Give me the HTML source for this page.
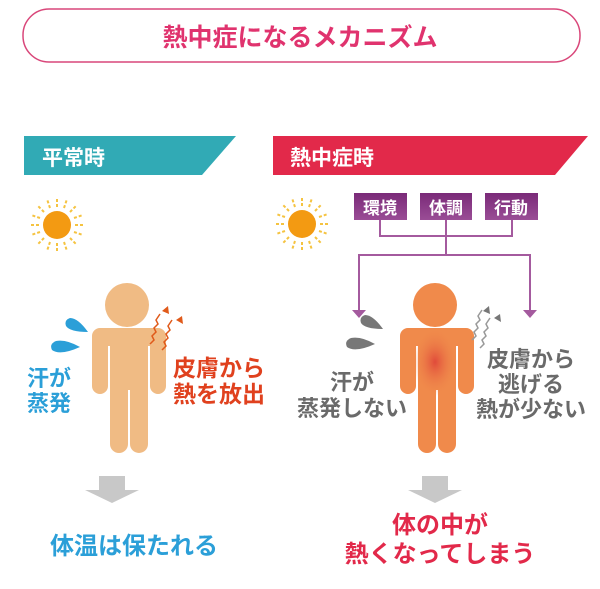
<!DOCTYPE html>
<html><head><meta charset="utf-8"><style>
body{margin:0;width:600px;height:584px;background:#fff;overflow:hidden}
svg text{font-family:"Liberation Sans","Noto Sans CJK JP",sans-serif;font-weight:bold}
</style></head><body>
<svg width="600" height="584" viewBox="0 0 600 584" xmlns="http://www.w3.org/2000/svg">
<defs>
<radialGradient id="hot" cx="0.5" cy="0.5" r="0.5"><stop offset="0" stop-color="#e04a3a"/><stop offset="1" stop-color="#f08a4b" stop-opacity="0"/></radialGradient>
<linearGradient id="pb" x1="0" y1="0" x2="0" y2="1"><stop offset="0" stop-color="#7a2a78"/><stop offset="1" stop-color="#9a4d96"/></linearGradient>
<g id="sun"><circle r="14" fill="#f39a12"/>
<g stroke="#f5c340" stroke-width="2" stroke-dasharray="3 2">
<line x1="0" y1="-18" x2="0" y2="-28"/><line x1="0" y1="18" x2="0" y2="28"/><line x1="-18" y1="0" x2="-28" y2="0"/><line x1="18" y1="0" x2="28" y2="0"/>
<line x1="13" y1="13" x2="20" y2="20"/><line x1="-13" y1="13" x2="-20" y2="20"/><line x1="13" y1="-13" x2="20" y2="-20"/><line x1="-13" y1="-13" x2="-20" y2="-20"/>
<line x1="7" y1="17" x2="10" y2="26"/><line x1="-7" y1="17" x2="-10" y2="26"/><line x1="7" y1="-17" x2="10" y2="-26"/><line x1="-7" y1="-17" x2="-10" y2="-26"/>
<line x1="17" y1="7" x2="26" y2="10"/><line x1="-17" y1="7" x2="-26" y2="10"/><line x1="17" y1="-7" x2="26" y2="-10"/><line x1="-17" y1="-7" x2="-26" y2="-10"/>
</g></g>
<g id="man">
<circle cx="0" cy="-23" r="22"/>
<path d="M-31,0 H31 a8,8 0 0 1 8,8 V58 a8,8 0 0 1 -16,0 V18 h-2 V116 a9,9 0 0 1 -18,0 V62 h-2 V116 a9,9 0 0 1 -18,0 V18 h-2 V58 a8,8 0 0 1 -16,0 V8 a8,8 0 0 1 8,-8Z"/>
</g>
<g id="drops">
<path d="M88,332 Q78,318 70,318 Q64,320 66,326 Q70,332 88,332Z"/>
<path d="M80,347 Q66,339 56,341 Q49,344 52,350 Q60,356 80,347Z"/>
</g>
</defs>
<rect x="23" y="9" width="557" height="53" rx="26" fill="#fff" stroke="#d9477a" stroke-width="1.5"/>
<text x="300" y="46" font-size="25" fill="#e0336e" text-anchor="middle">熱中症になるメカニズム</text>

<polygon points="24,136 236,136 202,175 24,175" fill="#31aab5"/>
<text x="42" y="165" font-size="21" fill="#fff">平常時</text>
<polygon points="273,136 588,136 555,175 273,175" fill="#e2294a"/>
<text x="290" y="165" font-size="21" fill="#fff">熱中症時</text>

<use href="#sun" x="57" y="225"/>
<use href="#sun" x="302" y="224"/>

<!-- left person -->
<use href="#man" x="127" y="328" fill="#f0bb84"/>
<use href="#drops" fill="#2b9fd8"/>
<path d="M150,344 l4,-4 l-2,-4 l4,-4 l-2,-4 l4,-4 l-2,-4 l4,-6" stroke="#e05a1a" stroke-width="1.5" fill="none"/>
<path d="M162,350 l4,-4 l-2,-4 l4,-4 l-2,-4 l4,-4 l-2,-4 l4,-6" stroke="#e05a1a" stroke-width="1.5" fill="none"/>
<polygon points="168,306 162,311 169,314" fill="#e05a1a"/><polygon points="182,316 176,320 183,324" fill="#e05a1a"/>
<text x="49" y="386" font-size="22" fill="#2b9fd8" text-anchor="middle" font-weight="normal">汗が</text>
<text x="49" y="411" font-size="22" fill="#2b9fd8" text-anchor="middle" font-weight="normal">蒸発</text>
<text x="219" y="376" font-size="23" fill="#e0411e" text-anchor="middle">皮膚から</text>
<text x="219" y="402" font-size="23" fill="#e0411e" text-anchor="middle">熱を放出</text>

<!-- right person -->
<use href="#man" x="435" y="328" fill="#f08a4b"/>
<ellipse cx="435" cy="362" rx="22" ry="34" fill="url(#hot)"/>
<use href="#drops" x="295" y="-3" fill="#777"/>
<path d="M472,340 l4,-4 l-2,-4 l4,-4 l-2,-4 l4,-4 l-2,-4 l4,-6" stroke="#999" stroke-width="1.5" fill="none"/>
<path d="M480,348 l4,-4 l-2,-4 l4,-4 l-2,-4 l4,-4 l-2,-4 l4,-6" stroke="#999" stroke-width="1.5" fill="none"/>
<polygon points="489,306 483,311 490,314" fill="#777"/><polygon points="500,314 494,318 501,322" fill="#777"/>
<text x="352" y="390" font-size="22" fill="#6a6a6a" text-anchor="middle" font-weight="normal">汗が</text>
<text x="352" y="416" font-size="22" fill="#6a6a6a" text-anchor="middle" font-weight="normal">蒸発しない</text>
<text x="531" y="367" font-size="22" fill="#6a6a6a" text-anchor="middle" font-weight="normal">皮膚から</text>
<text x="531" y="392" font-size="22" fill="#6a6a6a" text-anchor="middle" font-weight="normal">逃げる</text>
<text x="531" y="417" font-size="22" fill="#6a6a6a" text-anchor="middle" font-weight="normal">熱が少ない</text>

<!-- factor boxes -->
<rect x="354" y="193" width="53" height="27" fill="url(#pb)"/>
<rect x="420" y="193" width="52" height="27" fill="url(#pb)"/>
<rect x="485" y="193" width="53" height="27" fill="url(#pb)"/>
<text x="380" y="214" font-size="17" fill="#fff" text-anchor="middle" font-weight="normal">環境</text>
<text x="446" y="214" font-size="17" fill="#fff" text-anchor="middle" font-weight="normal">体調</text>
<text x="511" y="214" font-size="17" fill="#fff" text-anchor="middle" font-weight="normal">行動</text>
<g stroke="#a45a9e" stroke-width="2" fill="none">
<path d="M380,220 V236 H512 V220 M446,220 V255"/>
<path d="M359,312 V255 H530 V312"/>
</g>
<polygon points="352,310 366,310 359,318" fill="#a45a9e"/>
<polygon points="523,310 537,310 530,318" fill="#a45a9e"/>

<!-- bottom arrows -->
<polygon points="99,476 125,476 125,490 139,490 112,503 85,490 99,490" fill="#c8c8c8"/>
<polygon points="422,476 448,476 448,490 462,490 435,503 408,490 422,490" fill="#c8c8c8"/>
<text x="134" y="554" font-size="24" fill="#2b9fd8" text-anchor="middle">体温は保たれる</text>
<text x="440" y="533" font-size="24" fill="#e2294a" text-anchor="middle">体の中が</text>
<text x="440" y="562" font-size="24" fill="#e2294a" text-anchor="middle">熱くなってしまう</text>
</svg>
</body></html>
